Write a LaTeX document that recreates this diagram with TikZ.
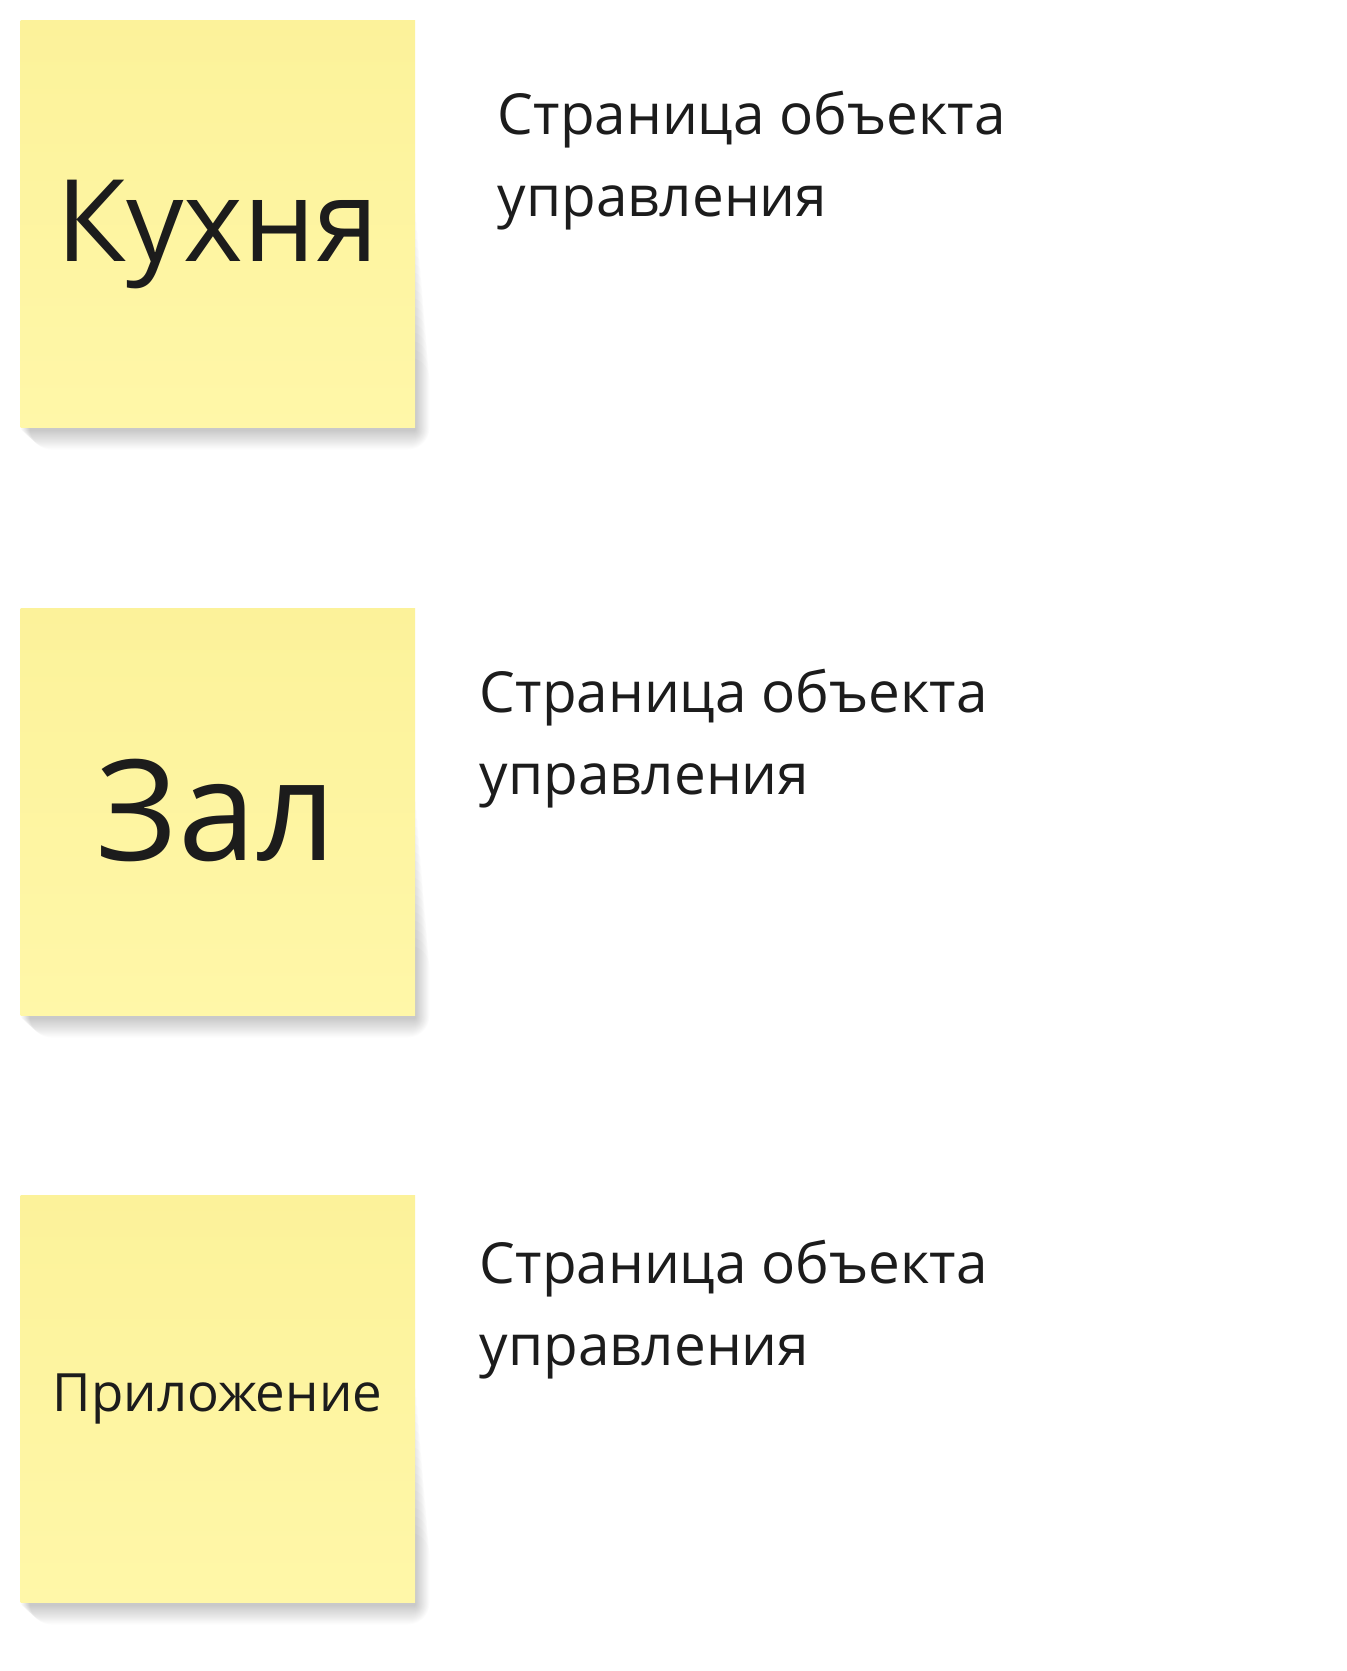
\documentclass[tikz,border=0pt]{standalone}
\usepackage{fontspec}
\setmainfont{Open Sans}
\definecolor{notetop}{HTML}{FCF29A}
\definecolor{notebot}{HTML}{FFF7A8}
\definecolor{ink}{HTML}{1C1C1C}
\begin{document}
\begin{tikzpicture}[x=0.5pt,y=-0.5pt,
  sticky/.style={rectangle, inner sep=0pt, minimum width=197.2pt, minimum height=203.5pt,
    top color=notetop, bottom color=notebot, draw=none},
  shadowlayer/.style={fill=black, fill opacity=0.012},
  notelabel/.style={inner sep=0pt, anchor=base, text=ink},
  pagetext/.style={inner sep=0pt, anchor=base west, align=left, text=ink,
    font=\fontsize{28.3pt}{41pt}\selectfont}]
  \useasboundingbox (0,0) rectangle (1346,1671);
  \fill[white] (0,0) rectangle (1346,1671);

  % sticky note positions (shapes drawn after their shadows)
  \path (217.9,224.2) coordinate (kc) (217.9,812.2) coordinate (zc) (217.9,1399.2) coordinate (pc);

  % soft shadows under the lower part of each note
  \foreach \n in {kc,zc,pc} {
    \foreach \r in {1,...,18} {
      \fill[shadowlayer, rounded corners=\r*0.6pt]
        ([shift={(-197.2+0.5*\r,-20+8.5*\r)}]\n) rectangle ([shift={(197.2+0.8*\r,203.5+2+1.1*\r)}]\n);
    }
  }

  % sticky notes
  \node[sticky] (k) at (kc) {};
  \node[sticky] (z) at (zc) {};
  \node[sticky] (p) at (pc) {};

  % note texts
  \node[notelabel, font=\fontsize{57pt}{60pt}\selectfont] (kt) at (217.5,261.7) {Кухня};
  \node[notelabel, font=\fontsize{70pt}{74pt}\selectfont] (zt) at (216.5,860) {Зал};
  \node[notelabel, font=\fontsize{26.4pt}{30pt}\selectfont] (pt) at (217.5,1411.7) {Приложение};

  % page texts (anchor: baseline of the last line)
  \node[pagetext] (t1) at (497.5,216.5) {Страница объекта\\управления};
  \node[pagetext] (t2) at (479.5,794) {Страница объекта\\управления};
  \node[pagetext] (t3) at (479.5,1365) {Страница объекта\\управления};
\end{tikzpicture}
\end{document}
